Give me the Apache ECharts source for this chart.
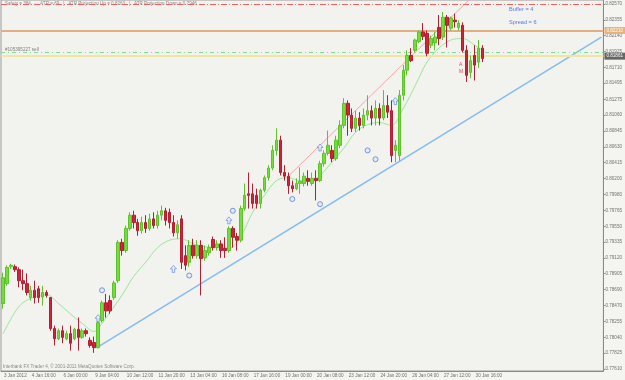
<!DOCTYPE html>
<html><head><meta charset="utf-8">
<script src="https://cdn.jsdelivr.net/npm/echarts@6/dist/echarts.min.js"></script>
<style>html,body{margin:0;padding:0;background:#f4f4f1;}#c{width:625px;height:380px;}</style>
</head><body><div id="c"></div>
<script>
// ---- data (H4 candles) ----
const opens  = [0.7850,0.7877,0.7900,0.7900,0.7896,0.7881,0.7877,0.7858,0.7868,0.7870,
0.7859,0.7865,0.7858,0.7816,0.7802,0.7813,0.7802,0.7809,0.7802,0.7815,
0.7804,0.7813,0.7800,0.7797,0.7790,0.7827,0.7851,0.7854,0.7858,0.7881,
0.7933,0.7922,0.7952,0.7970,0.7960,0.7949,0.7960,0.7952,0.7965,0.7956,
0.7970,0.7976,0.7974,0.7960,0.7946,0.7965,0.7915,0.7906,0.7929,0.7915,
0.7929,0.7912,0.7919,0.7937,0.7926,0.7931,0.7925,0.7922,0.7952,0.7941,
0.7936,0.7979,0.7999,0.7999,0.7997,0.7986,0.8004,0.8021,0.8034,0.8058,
0.8072,0.8028,0.8023,0.8010,0.8006,0.8013,0.8013,0.8020,0.8013,0.8020,
0.8017,0.8040,0.8054,0.8058,0.8047,0.8065,0.8092,0.8122,0.8106,0.8088,
0.8102,0.8092,0.8106,0.8112,0.8102,0.8115,0.8102,0.8119,0.8112,0.8058,
0.8051,0.8133,0.8167,0.8187,0.8194,0.8206,0.8219,0.8217,0.8201,0.8204,
0.8225,0.8212,0.8239,0.8224,0.8235,0.8225,0.8228,0.8194,0.8164,0.8187,
0.8178,0.8197];
const closes = [0.7885,0.7899,0.7902,0.7896,0.7881,0.7877,0.7865,0.7868,0.7858,0.7858,
0.7865,0.7861,0.7816,0.7802,0.7813,0.7804,0.7809,0.7796,0.7815,0.7804,
0.7813,0.7809,0.7793,0.7790,0.7824,0.7851,0.7840,0.7840,0.7878,0.7933,
0.7922,0.7952,0.7970,0.7960,0.7949,0.7960,0.7952,0.7965,0.7956,0.7970,
0.7976,0.7963,0.7960,0.7946,0.7957,0.7906,0.7902,0.7929,0.7915,0.7929,
0.7911,0.7922,0.7926,0.7926,0.7931,0.7922,0.7922,0.7952,0.7940,0.7936,
0.7979,0.7997,0.7997,0.7986,0.7986,0.8004,0.8021,0.8034,0.8058,0.8072,
0.8028,0.8023,0.8010,0.8006,0.8013,0.8016,0.8023,0.8016,0.8020,0.8017,
0.8040,0.8054,0.8065,0.8047,0.8072,0.8092,0.8122,0.8106,0.8088,0.8102,
0.8092,0.8106,0.8112,0.8102,0.8115,0.8102,0.8119,0.8110,0.8051,0.8065,
0.8133,0.8167,0.8187,0.8180,0.8208,0.8219,0.8213,0.8190,0.8210,0.8212,
0.8210,0.8239,0.8228,0.8238,0.8233,0.8231,0.8194,0.8160,0.8180,0.8174,
0.8197,0.8183];
const lows   = [0.7843,0.7874,0.7897,0.7893,0.7872,0.7868,0.7861,0.7854,0.7850,0.7851,
0.7847,0.7858,0.7813,0.7793,0.7800,0.7796,0.7800,0.7786,0.7800,0.7786,
0.7802,0.7805,0.7790,0.7783,0.7789,0.7824,0.7831,0.7836,0.7855,0.7878,
0.7915,0.7919,0.7949,0.7952,0.7942,0.7945,0.7946,0.7949,0.7952,0.7952,
0.7963,0.7956,0.7952,0.7941,0.7938,0.7897,0.7895,0.7900,0.7911,0.7911,
0.7861,0.7908,0.7915,0.7922,0.7922,0.7912,0.7912,0.7919,0.7926,0.7922,
0.7933,0.7976,0.7979,0.7979,0.7979,0.7979,0.8001,0.8017,0.8031,0.8051,
0.8024,0.8017,0.7999,0.8001,0.8004,0.7999,0.8009,0.8010,0.8010,0.7990,
0.8015,0.8036,0.8051,0.8042,0.8044,0.8061,0.8088,0.8078,0.8083,0.8083,
0.8085,0.8088,0.8099,0.8092,0.8092,0.8092,0.8099,0.8102,0.8042,0.8042,
0.8044,0.8126,0.8160,0.8178,0.8191,0.8204,0.8208,0.8186,0.8197,0.8194,
0.8201,0.8208,0.8198,0.8221,0.8225,0.8221,0.8191,0.8151,0.8156,0.8153,
0.8170,0.8178];
const highs  = [0.7892,0.7902,0.7904,0.7903,0.7899,0.7896,0.7891,0.7874,0.7881,0.7874,
0.7874,0.7868,0.7859,0.7820,0.7816,0.7820,0.7813,0.7820,0.7817,0.7831,
0.7816,0.7816,0.7804,0.7805,0.7827,0.7854,0.7863,0.7861,0.7881,0.7936,
0.7938,0.7956,0.7974,0.7976,0.7965,0.7968,0.7970,0.7972,0.7974,0.7976,
0.7983,0.7980,0.7979,0.7970,0.7963,0.7970,0.7929,0.7936,0.7938,0.7936,
0.7936,0.7929,0.7930,0.7941,0.7936,0.7936,0.7940,0.7955,0.7955,0.7946,
0.7983,0.8013,0.8028,0.8013,0.8006,0.8006,0.8024,0.8038,0.8065,0.8088,
0.8078,0.8038,0.8028,0.8017,0.8020,0.8035,0.8028,0.8031,0.8028,0.8031,
0.8044,0.8058,0.8085,0.8065,0.8078,0.8099,0.8129,0.8126,0.8115,0.8112,
0.8110,0.8115,0.8133,0.8119,0.8126,0.8122,0.8140,0.8133,0.8126,0.8072,
0.8140,0.8174,0.8194,0.8197,0.8210,0.8221,0.8231,0.8221,0.8214,0.8219,
0.8242,0.8246,0.8242,0.8240,0.8244,0.8235,0.8232,0.8201,0.8187,0.8201,
0.8208,0.8201];
// moving average readings: [bar, value]
const maPoints = [[0,0.7809],[3,0.7838],[5,0.7851],[8,0.7859],[11,0.7862],[14,0.7850],[17,0.7836],[20,0.7823],
[23,0.7812],[25,0.7823],[27,0.7838],[30,0.7861],[33,0.7887],[36,0.7906],[39,0.7926],[42,0.7936],[45,0.7938],
[48,0.7931],[51,0.7927],[54,0.7926],[57,0.7925],[60,0.7941],[63,0.7974],[66,0.7997],[69,0.8017],[72,0.8021],
[75,0.8017],[78,0.8017],[80,0.8024],[83,0.8042],[86,0.8061],[89,0.8083],[92,0.8093],[95,0.8096],[98,0.8092],
[101,0.8115],[104,0.8146],[107,0.8178],[110,0.8197],[113,0.8208],[116,0.8210],[119,0.8201],[121,0.8194]];
const trendLine = [[24,0.7791],[151,0.8212]];
const projLine  = [[72,0.8023],[119,0.8270]];
const levelSafety = 0.82570, levelOrder = 0.82210, levelStop = 0.81910, levelBid = 0.81861;
const xTickBars   = [0,7,15,23,31,39,47,55,63,71,79,87,95,103,111,119];
const xTickLabels = ['3 Jan 2012','4 Jan 16:00','6 Jan 00:00','9 Jan 04:00','10 Jan 12:00','11 Jan 20:00','13 Jan 04:00','16 Jan 08:00','17 Jan 16:00','19 Jan 00:00','20 Jan 08:00','23 Jan 12:00','24 Jan 20:00','26 Jan 04:00','27 Jan 12:00','30 Jan 16:00'];
const yTickLabels = ['0.82570','0.82355','0.82140','0.81925','0.81710','0.81495','0.81275','0.81060','0.80845','0.80630','0.80415','0.80200','0.79980','0.79765','0.79550','0.79335','0.79120','0.78905','0.78690','0.78470','0.78255','0.78040','0.77825','0.77610'];
const arrowMarks = [[24,0.7830],[43,0.7897],[57,0.7963],[80,0.8062],[99,0.8125]];
const iconMarks  = [[25,0.7868],[47,0.7888],[58,0.7976],[73,0.7992],[80,0.7985],[92,0.8058],[94,0.8046]];
const crossMarks = [[91,0.8058],[98,0.8126],[111,0.8198]];
const checkMarks = [[106,0.8175],[119,0.8208]];
const nBars = 152;

const categories = [];
for (let i = 0; i < nBars; i++) { const k = xTickBars.indexOf(i); categories.push(k >= 0 ? xTickLabels[k] : ''); }
const candles = opens.map((o, i) => [o, closes[i], lows[i], highs[i]]);
const isTick = (i) => xTickBars.indexOf(i) >= 0;
const FONT = 'Liberation Sans';

function hLine(value, lineStyle, label) {
  return {type: 'line', data: [], silent: true, z: 2,
    markLine: {symbol: ['none', 'none'], silent: true, animation: false, precision: 6,
      data: [{yAxis: value}], lineStyle: lineStyle,
      label: label || {show: false}}};
}

const chart = echarts.init(document.getElementById('c'), null, {renderer: 'canvas'});
const arrowPath = 'path://M5,0 L10,5 L7,5 L7,10 L3,10 L3,5 L0,5 Z';
chart.setOption({
  animation: false,
  backgroundColor: '#f4f4f1',
  grid: {left: 1, right: 19, top: 0, bottom: 9, show: true, borderColor: '#9a9a9a', borderWidth: 1, backgroundColor: '#f2f2ef'},
  xAxis: {
    type: 'category', data: categories, boundaryGap: true,
    axisLine: {lineStyle: {color: '#8a8a8a'}},
    axisTick: {interval: (i) => isTick(i), length: 2, lineStyle: {color: '#8a8a8a'}},
    axisLabel: {interval: (i) => isTick(i), align: 'left', margin: 2, fontSize: 4.6, color: '#707070', fontFamily: FONT, padding: [0,0,0,1]},
    splitLine: {show: false}
  },
  yAxis: {
    type: 'value', position: 'right', min: 0.77583, max: 0.82624,
    axisLine: {show: true, lineStyle: {color: '#8a8a8a'}},
    axisTick: {show: true, length: 2, customValues: yTickLabels.map(Number), lineStyle: {color: '#8a8a8a'}},
    axisLabel: {customValues: yTickLabels.map(Number), formatter: (v) => v.toFixed(5), margin: 2, fontSize: 4.6, color: '#707070', fontFamily: FONT},
    splitLine: {show: false}
  },
  series: [
    hLine(levelSafety, {color: '#f06262', width: 1, type: [6,2,1,2]}),
    hLine(levelOrder, {color: '#e2ae82', width: 2, type: 'solid'},
      {show: true, position: 'end', formatter: '0.82210', distance: 1, backgroundColor: '#e8b27c', color: '#fff', fontSize: 4.6, padding: [1,2], fontFamily: FONT}),
    hLine(levelStop, {color: '#88dd88', width: 1, type: [4,3,1,3]}),
    hLine(levelBid, {color: '#efe6a0', width: 2, type: 'solid'},
      {show: true, position: 'end', formatter: '0.81861', distance: 1, backgroundColor: '#666', color: '#fff', fontSize: 4.6, padding: [1,2], fontFamily: FONT}),
    {type: 'candlestick', data: candles, barWidth: 3, z: 5,
     itemStyle: {color: '#74dc3c', color0: '#d0223a', borderColor: '#5cc42a', borderColor0: '#b81c30', borderWidth: 1}},
    {type: 'line', data: maPoints, smooth: 0.35, symbol: 'none', lineStyle: {color: '#98e898', width: 1}, z: 3},
    {type: 'line', data: trendLine, symbol: 'none', lineStyle: {color: '#80bdf0', width: 1.5}, z: 4},
    {type: 'line', data: projLine, symbol: 'none', lineStyle: {color: '#f4a8a8', width: 1}, z: 4, clip: true},
    {type: 'scatter', data: arrowMarks, symbol: arrowPath, symbolSize: [6,7], itemStyle: {color: '#e4eefc', borderColor: '#5a82d8', borderWidth: 0.8}, z: 6},
    {type: 'scatter', data: iconMarks, symbol: 'circle', symbolSize: 5, itemStyle: {color: '#dfe8fb', borderColor: '#5a7fd8', borderWidth: 1}, z: 6},
    {type: 'scatter', data: crossMarks, symbol: 'none', label: {show: true, formatter: '×', color: '#e04848', fontSize: 7, position: 'inside'}, z: 6},
    {type: 'scatter', data: checkMarks, symbol: 'none', label: {show: true, formatter: '✓', color: '#4a6fd8', fontSize: 6, position: 'inside'}, z: 6}
  ],
  graphic: [
    {type: 'text', left: 5, top: 1.5, style: {text: 'Safety = 384   ·   ATR = 69   |   ATR Projection Up = 0.8263   |   ATR Projection Down = 0.7946', fontSize: 4.6, fill: '#8c8c8c', fontFamily: FONT}},
    {type: 'text', left: 5, top: 47, style: {text: '#105395227 sell', fontSize: 4.6, fill: '#808080', fontFamily: FONT}},
    {type: 'text', left: 509, top: 6, style: {text: 'Buffer = 4', fontSize: 5.6, fill: '#5a78e6', fontFamily: FONT}},
    {type: 'text', left: 509, top: 19, style: {text: 'Spread = 6', fontSize: 5.6, fill: '#5a78e6', fontFamily: FONT}},
    {type: 'text', left: 3, top: 364, style: {text: 'Interbank FX Trader 4, © 2001-2011 MetaQuotes Software Corp.', fontSize: 4.6, fill: '#8a8a8a', fontFamily: FONT}},
    {type: 'text', left: 459, top: 62, style: {text: 'A', fontSize: 5, fill: '#e04848', fontFamily: FONT}},
    {type: 'text', left: 459, top: 69, style: {text: 'M', fontSize: 5, fill: '#e04848', fontFamily: FONT}}
  ]
});
</script></body></html>
